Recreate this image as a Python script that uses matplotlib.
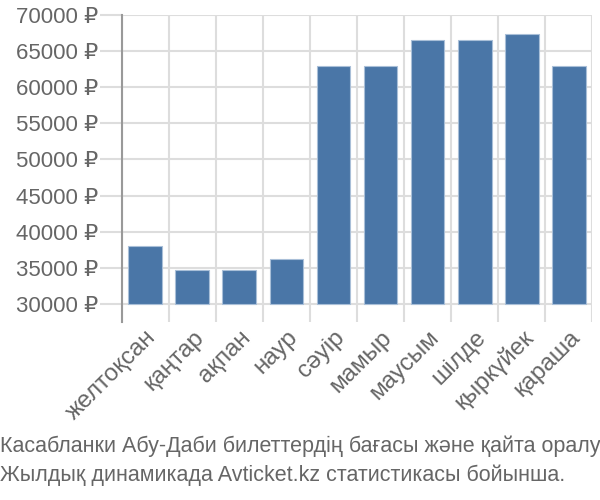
import matplotlib
matplotlib.use("Agg")
import matplotlib.pyplot as plt
import numpy as np

months = ["желтоқсан", "қаңтар", "ақпан", "наур", "сәуір", "мамыр",
          "маусым", "шілде", "қыркүйек", "қараша"]
prices = [38000, 34700, 34700, 36200, 62900, 62900, 66600, 66600, 67400, 63000]
yticks = [30000, 35000, 40000, 45000, 50000, 55000, 60000, 65000, 70000]
caption = ("Касабланки Абу-Даби билеттердің бағасы және қайта оралу\n"
           "Жылдық динамикада Avticket.kz статистикасы бойынша.")

plt.rcParams['font.family'] = ['Liberation Sans', 'DejaVu Sans']
text_col = "#666666"
grid_col = "#dddddd"

fig = plt.figure(figsize=(6, 5), dpi=100)
ax = fig.add_axes([0.203, 0.356, 0.784, 0.614])

x = np.arange(len(months))
base = 30000
ax.bar(x, np.array(prices) - base, bottom=base, width=0.72,
       color="#4a76a7", edgecolor="#a9bfd8", linewidth=0.8, zorder=3)

ax.set_xlim(-0.5, len(months) - 0.5)
ax.set_ylim(27500, 70000)

ax.set_yticks(yticks)
ax.set_yticklabels([f"{v} ₽" for v in yticks])
ax.set_xticks(x)
ax.set_xticklabels(months, rotation=45, ha="right", va="top",
                   rotation_mode="anchor")
ax.set_xticks(np.arange(len(months) + 1) - 0.5, minor=True)

ax.grid(axis="y", which="major", color=grid_col, linewidth=1.5, zorder=0)
ax.grid(axis="x", which="minor", color=grid_col, linewidth=1.5, zorder=0)
ax.tick_params(axis="y", length=16, width=1.5, color=grid_col, pad=1,
               labelsize=16, labelcolor=text_col)
ax.tick_params(axis="x", which="major", length=0, pad=3,
               labelsize=17.5, labelcolor=text_col)
ax.tick_params(axis="x", which="minor", length=0)

for s in ["top", "right", "bottom"]:
    ax.spines[s].set_visible(False)
ax.spines["left"].set_color("#999999")
ax.spines["left"].set_linewidth(1.5)

fig.text(0.0, 0.078, caption, fontsize=15.5, color=text_col, ha="left",
         va="center", linespacing=1.45,
         family=['Liberation Sans Narrow', 'Liberation Sans', 'DejaVu Sans'])

fig.savefig("out.png", dpi=100)
